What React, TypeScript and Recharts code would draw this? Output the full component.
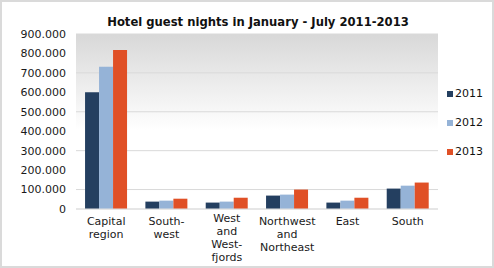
import React from "react"
import { BarChart, Bar, XAxis, YAxis, CartesianGrid } from "recharts"

const regions = [
  "Capital\nregion",
  "South-\nwest",
  "West\nand\nWest-\nfjords",
  "Northwest\nand\nNortheast",
  "East",
  "South",
]
const nights2011 = [600000, 38000, 33000, 69000, 33000, 105000]
const nights2012 = [731000, 43000, 38000, 74000, 43000, 120000]
const nights2013 = [818000, 53000, 58000, 100000, 58000, 136000]
const yTicks = [0, 100000, 200000, 300000, 400000, 500000, 600000, 700000, 800000, 900000]

const COLORS = { y2011: "#243f60", y2012: "#95b3d7", y2013: "#e05026" }
const FONT = "'DejaVu Sans', Verdana, sans-serif"

const data = regions.map((name, i) => ({
  name,
  y2011: nights2011[i],
  y2012: nights2012[i],
  y2013: nights2013[i],
}))

const legendItems = [
  { label: "2011", color: COLORS.y2011 },
  { label: "2012", color: COLORS.y2012 },
  { label: "2013", color: COLORS.y2013 },
]

// dots as thousand separators, 0 stays plain
const formatTick = (v: number) => (v === 0 ? "0" : v.toLocaleString("en-US").replace(/,/g, "."))

function RegionTick({ x, y, payload }: any) {
  const lines = String(payload.value).split("\n")
  const top = y + 8 - (lines.length > 3 ? 3 : 0)
  return (
    <text x={x} y={top} textAnchor="middle" fill="#1a1a1a" fontSize={11} fontFamily={FONT}>
      {lines.map((l, i) => (
        <tspan key={i} x={x} dy={i === 0 ? 0 : 13}>
          {l}
        </tspan>
      ))}
    </text>
  )
}

export default function App() {
  return (
    <div
      style={{
        position: "absolute",
        left: 0,
        top: 0,
        width: 494,
        height: 268,
        boxSizing: "border-box",
        border: "2px solid #dadada",
        background: "#fff",
        fontFamily: FONT,
      }}
    >
      <div
        style={{
          position: "absolute",
          left: 0,
          top: 0,
          width: 512,
          textAlign: "center",
          fontSize: 11.6,
          fontWeight: "bold",
          color: "#111",
          lineHeight: "14px",
          paddingTop: 13,
        }}
      >
        Hotel guest nights in January - July 2011-2013
      </div>
      <div style={{ position: "absolute", left: -2, top: -2 }}>
        <BarChart
          width={494}
          height={268}
          data={data}
          margin={{ top: 34, right: 56, bottom: 4, left: 0 }}
          barCategoryGap="15%"
          barGap={0}
        >
          <defs>
            <linearGradient id="plotBg" x1="0" y1="0" x2="0" y2="1">
              <stop offset="0%" stopColor="#d8d8d8" />
              <stop offset="55%" stopColor="#ffffff" />
              <stop offset="100%" stopColor="#ffffff" />
            </linearGradient>
          </defs>
          <CartesianGrid vertical={false} stroke="#d9d9d9" fill="url(#plotBg)" fillOpacity={1} />
          <XAxis
            dataKey="name"
            interval={0}
            height={55}
            tick={<RegionTick />}
            tickLine={false}
            axisLine={{ stroke: "#e0e0e0" }}
          />
          <YAxis
            width={76}
            domain={[0, 900000]}
            ticks={yTicks}
            tickFormatter={formatTick}
            tickLine={false}
            axisLine={false}
            tickSize={0}
            tickMargin={10}
            tick={{ fill: "#1a1a1a", fontSize: 11, fontFamily: FONT }}
          />
          <Bar dataKey="y2011" fill={COLORS.y2011} isAnimationActive={false} />
          <Bar dataKey="y2012" fill={COLORS.y2012} isAnimationActive={false} />
          <Bar dataKey="y2013" fill={COLORS.y2013} isAnimationActive={false} />
        </BarChart>
      </div>
      <div style={{ position: "absolute", left: 445, top: 77, fontSize: 11, color: "#111" }}>
        {legendItems.map((it) => (
          <div key={it.label} style={{ display: "flex", alignItems: "center", height: 29 }}>
            <span style={{ width: 6, height: 6, background: it.color, marginRight: 2, display: "inline-block" }} />
            {it.label}
          </div>
        ))}
      </div>
    </div>
  )
}
